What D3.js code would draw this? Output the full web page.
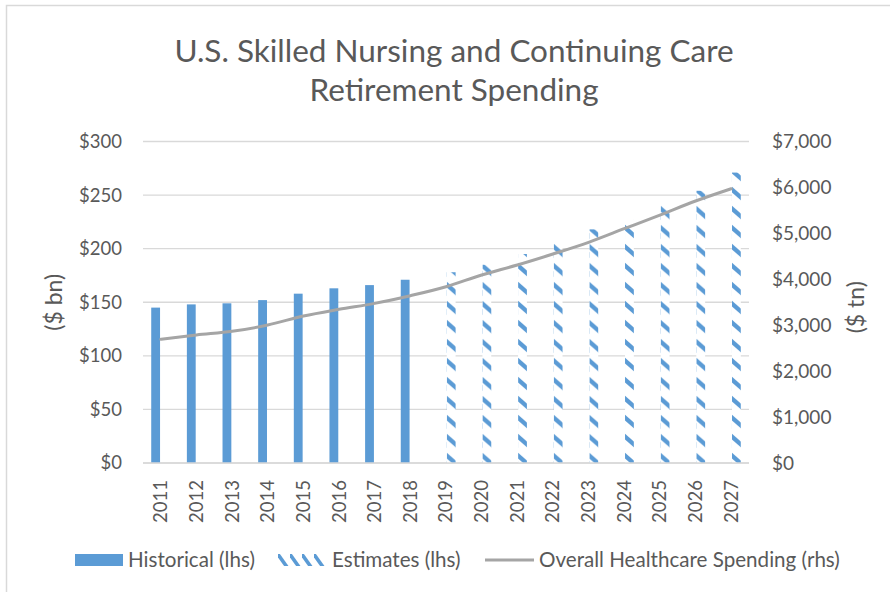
<!DOCTYPE html>
<html><head><meta charset="utf-8">
<script src="https://cdn.jsdelivr.net/npm/d3@7"></script>
<style>
html,body{margin:0;padding:0;background:#fff;}
text{font-family:Lato,"Open Sans",sans-serif;fill:#595959;}
</style></head>
<body><svg id="chart" width="890" height="592"></svg>
<script>
const years = ["2011","2012","2013","2014","2015","2016","2017","2018","2019","2020","2021","2022","2023","2024","2025","2026","2027"];
const historical = [145,148,149,152,158,163,166,171,null,null,null,null,null,null,null,null,null];
const estimates = [null,null,null,null,null,null,null,null,178,185,195,205,218,227,244,254,271];
const healthcare = [2693,2787,2867,3004,3200,3346,3476,3643,3838,4093,4311,4550,4804,5101,5399,5704,5972];
const leftTicks = [0,50,100,150,200,250,300];
const rightTicks = [0,1000,2000,3000,4000,5000,6000,7000];
const titleLines = ["U.S. Skilled Nursing and Continuing Care","Retirement Spending"];
const legendLabels = ["Historical (lhs)","Estimates (lhs)","Overall Healthcare Spending (rhs)"];

const svg = d3.select("#chart");
const blue = "#5b9bd5", gray = "#a5a5a5", grid = "#d9d9d9";

// pattern for estimates
const defs = svg.append("defs");
const pat = defs.append("pattern").attr("id","diag").attr("patternUnits","userSpaceOnUse")
  .attr("width",10).attr("height",19);
pat.append("rect").attr("width",10).attr("height",19).attr("fill","#fff");
pat.append("path").attr("d","M-2,-2 L12,10").attr("stroke",blue).attr("stroke-width",4.4);
pat.append("path").attr("d","M-2,17 L12,29").attr("stroke",blue).attr("stroke-width",4.4);
const pat2 = defs.append("pattern").attr("id","diagL").attr("patternUnits","userSpaceOnUse")
  .attr("width",12).attr("height",12);
pat2.append("rect").attr("width",12).attr("height",12).attr("fill","#fff");
pat2.append("path").attr("d","M-1,-1 L9,13").attr("stroke",blue).attr("stroke-width",3.6);

// border
svg.append("rect").attr("x",6.5).attr("y",5.5).attr("width",900).attr("height",600)
  .attr("fill","none").attr("stroke",grid).attr("stroke-width",1.5);

const x = d3.scaleBand().domain(years).range([143,749]).padding(0);
const yL = d3.scaleLinear().domain([0,300]).range([463,141.5]);
const yR = d3.scaleLinear().domain([0,7000]).range([463,141.5]);
const bw = x.bandwidth();
const sub = d3.scaleBand().domain(["h","e"]).range([bw/2-9.6, bw/2+9.6]).paddingInner(0.15);

// gridlines
svg.append("g").selectAll("line").data(leftTicks).join("line")
  .attr("x1",143).attr("x2",749).attr("y1",d=>yL(d)).attr("y2",d=>yL(d))
  .attr("stroke",grid).attr("stroke-width",1.3);

// left axis
const axL = svg.append("g").attr("transform","translate(143,0)")
  .call(d3.axisLeft(yL).tickValues(leftTicks).tickSize(0).tickPadding(21).tickFormat(d=>"$"+d3.format(",")(d)));
axL.select(".domain").remove();
axL.selectAll("text").style("font-size","18.5px").attr("fill","#595959").style("font-family","Lato");
// right axis
const axR = svg.append("g").attr("transform","translate(749,0)")
  .call(d3.axisRight(yR).tickValues(rightTicks).tickSize(0).tickPadding(23).tickFormat(d=>"$"+d3.format(",")(d)));
axR.select(".domain").remove();
axR.selectAll("text").style("font-size","19px").attr("fill","#595959").style("font-family","Lato");

// historical bars
svg.append("g").selectAll("rect").data(years.map((y,i)=>({y,v:historical[i]})).filter(d=>d.v!=null)).join("rect")
  .attr("x",d=>x(d.y)+sub("h")).attr("width",sub.bandwidth())
  .attr("y",d=>yL(d.v)).attr("height",d=>yL(0)-yL(d.v)).attr("fill",blue);
// estimates bars
svg.append("g").selectAll("g").data(years.map((y,i)=>({y,v:estimates[i]})).filter(d=>d.v!=null)).join("g")
  .attr("transform",d=>`translate(${x(d.y)+sub("e")},0)`)
  .append("rect").attr("x",0).attr("width",sub.bandwidth())
  .attr("y",d=>yL(d.v)).attr("height",d=>yL(0)-yL(d.v)).attr("fill","url(#diag)");

// axis baseline
svg.append("line").attr("x1",143).attr("x2",749).attr("y1",yL(0)).attr("y2",yL(0)).attr("stroke",grid).attr("stroke-width",1.5);

// line
const line = d3.line().x((d,i)=>x(years[i])+bw/2).y(d=>yR(d)).curve(d3.curveMonotoneX);
svg.append("path").datum(healthcare).attr("d",line).attr("fill","none").attr("stroke",gray)
  .attr("stroke-width",3).attr("stroke-linecap","round");

// x labels
const axB = svg.append("g").attr("transform",`translate(0,${yL(0)})`)
  .call(d3.axisBottom(x).tickSize(0).tickPadding(0));
axB.select(".domain").remove();
axB.selectAll("text").attr("transform","rotate(-90)").attr("text-anchor","end")
  .attr("x",-17).attr("y",0).attr("dy","0.35em").style("font-size","18.5px").attr("fill","#595959").style("font-family","Lato");

// axis titles
svg.append("text").attr("transform",`translate(54,${(yL(0)+yL(300))/2}) rotate(-90)`)
  .attr("text-anchor","middle").attr("dy","0.35em").style("font-size","23px").text("($ bn)");
svg.append("text").attr("transform",`translate(856,${(yL(0)+yL(300))/2+5}) rotate(-90)`)
  .attr("text-anchor","middle").attr("dy","0.35em").style("font-size","23px").text("($ tn)");

// title
svg.append("g").selectAll("text").data(titleLines).join("text")
  .attr("x",454).attr("y",(d,i)=>62+i*39).attr("text-anchor","middle")
  .style("font-size","31.5px").style("font-weight","400").text(d=>d);

// legend
const lg = svg.append("g");
const ly = 560;
lg.append("rect").attr("x",75).attr("y",ly-6).attr("width",48).attr("height",12).attr("fill",blue);
lg.append("g").attr("transform",`translate(278,${ly-6})`).append("rect").attr("width",48).attr("height",12).attr("fill","url(#diagL)");
lg.append("line").attr("x1",485).attr("x2",534).attr("y1",ly).attr("y2",ly).attr("stroke",gray).attr("stroke-width",3);
const lx = [128,332,539];
lg.selectAll("text").data(legendLabels).join("text").attr("x",(d,i)=>lx[i]).attr("y",ly).attr("dy","0.35em")
  .style("font-size","20.6px").text(d=>d);
</script></body></html>
